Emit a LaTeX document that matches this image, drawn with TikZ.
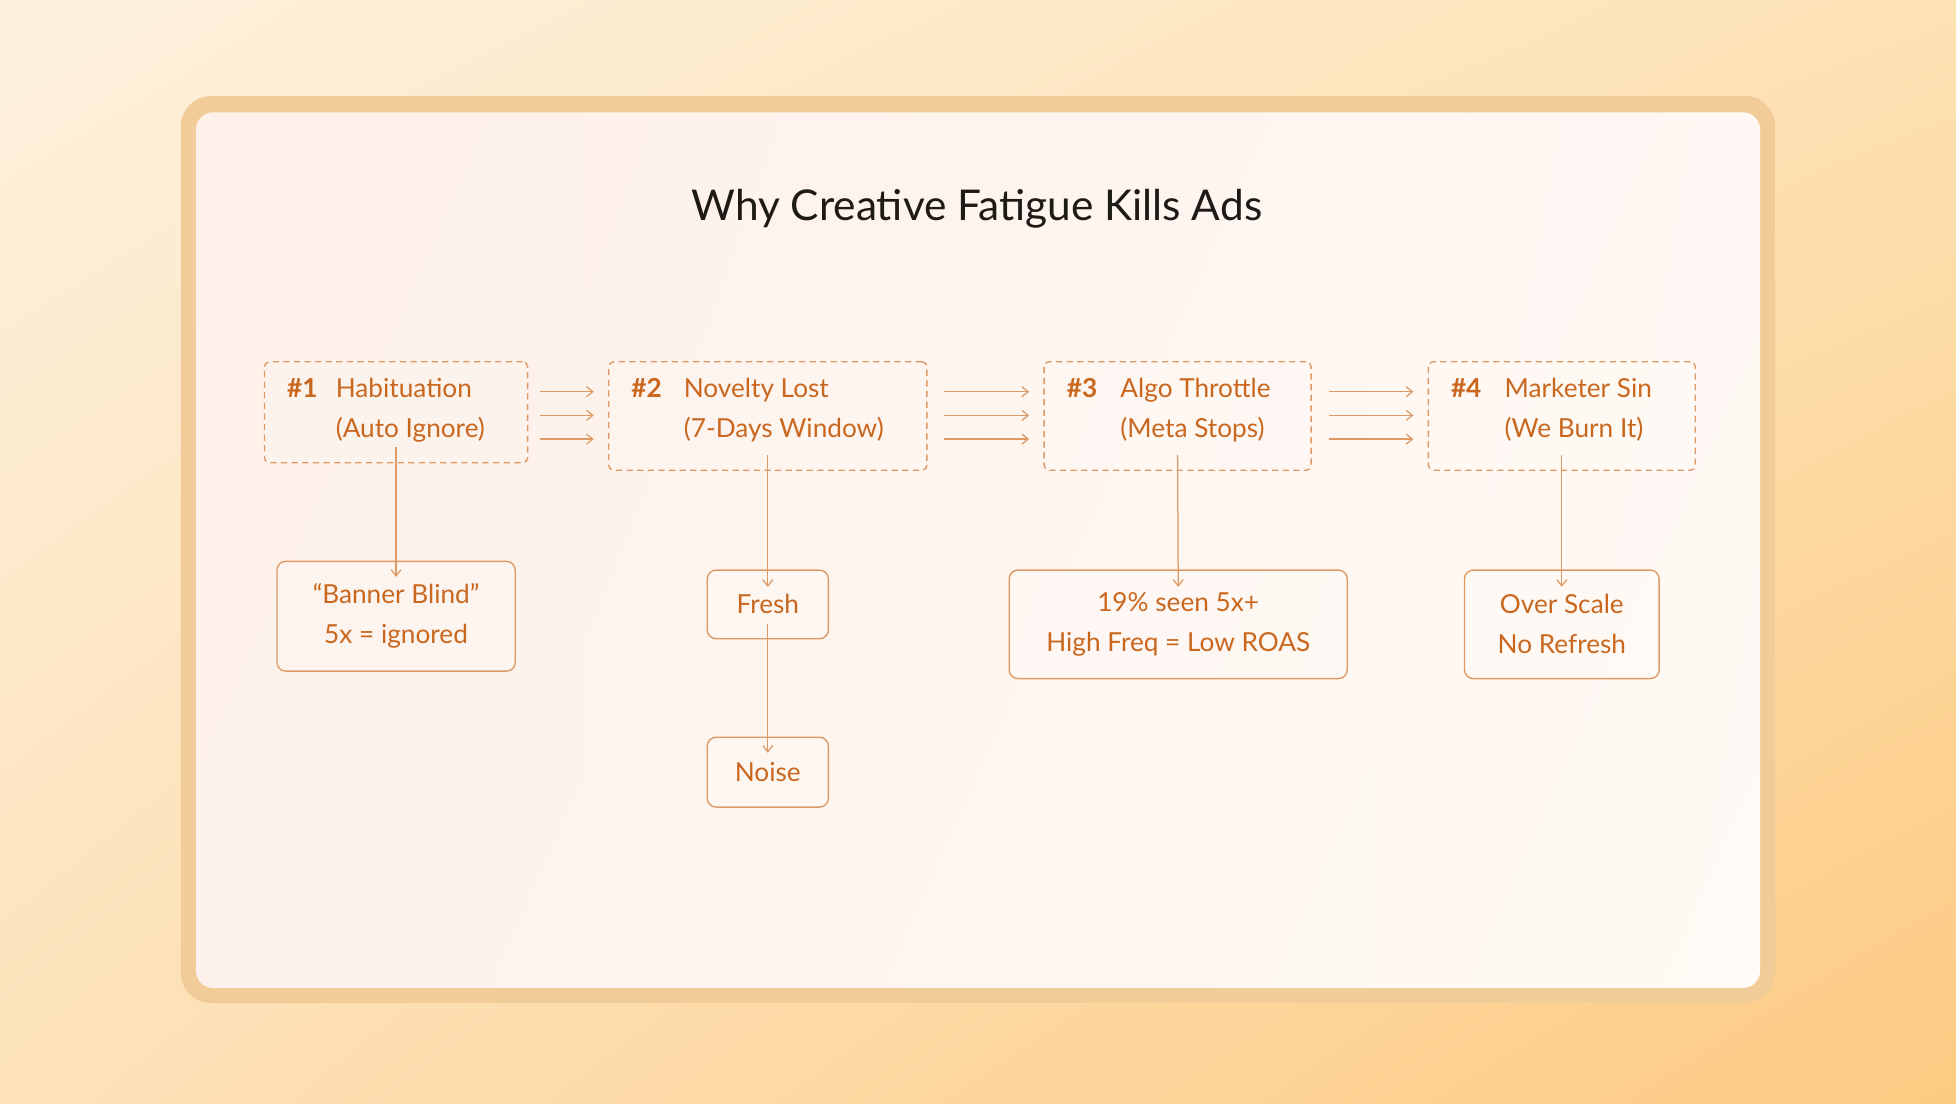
\documentclass[tikz,border=0pt]{standalone}
\usepackage{fontspec}
\setmainfont{Lato}
\usetikzlibrary{arrows.meta,shadings}
\definecolor{txt}{HTML}{C9671F}
\definecolor{brd}{HTML}{DE9A66}
\definecolor{frame}{HTML}{F2CC98}
\definecolor{bgul}{HTML}{FDF1DE}
\definecolor{bgur}{HTML}{FDE2B4}
\definecolor{bgll}{HTML}{FDE2B9}
\definecolor{bglr}{HTML}{FDCA82}
\definecolor{pul}{HTML}{FDF0E8}
\definecolor{pur}{HTML}{FFF8F4}
\definecolor{pll}{HTML}{FDF2EB}
\definecolor{plr}{HTML}{FFFAF5}
\definecolor{ttl}{HTML}{1E1A16}
\begin{document}
\begin{tikzpicture}[x=1pt,y=-1pt,
  dbox/.style={draw=brd,dashed,dash pattern=on 5pt off 3.5pt,line width=1.1pt,rounded corners=4pt,fill=white,fill opacity=0.15,text opacity=1},
  sbox/.style={draw=brd,line width=1.1pt,rounded corners=7pt,fill=white,fill opacity=0.2,text opacity=1,text=txt,font=\fontsize{21}{32}\selectfont,align=center,inner sep=0pt},
  lbl/.style={text=txt,font=\fontsize{21}{32}\selectfont,align=left,inner sep=0pt,anchor=north west},
  num/.style={text=txt,font=\fontsize{21}{32}\selectfont\bfseries,inner sep=0pt,anchor=north west},
  arr/.style={draw=brd,line width=1pt,-{Straight Barb[length=5pt,width=8pt]}}]
\shade[upper left=bgul,upper right=bgur,lower left=bgll,lower right=bglr] (0,0) rectangle (1568,885);
\useasboundingbox (0,0) rectangle (1568,885);
\fill[frame,rounded corners=24pt] (145,77) rectangle (1423,804);
\shade[rounded corners=14pt,upper left=pul,lower right=plr,upper right=pur,lower left=pll] (157,90) rectangle (1411,792);
\node[font=\fontsize{34}{40}\selectfont,text=ttl] (title) at (783,167) {Why Creative Fatigue Kills Ads};
% dashed boxes
\node[dbox,minimum width=211pt,minimum height=81pt] (d1) at (317.5,330.5) {};
\node[dbox,minimum width=255pt,minimum height=87pt] (d2) at (615.5,333.5) {};
\node[dbox,minimum width=214pt,minimum height=87pt] (d3) at (944,333.5) {};
\node[dbox,minimum width=214pt,minimum height=87pt] (d4) at (1252,333.5) {};
\node[num] (n1) at (230,303) {\#1};
\node[lbl] (t1) at (269,303) {Habituation\\(Auto Ignore)};
\node[num] (n2) at (506,303) {\#2};
\node[lbl] (t2) at (548,303) {Novelty Lost\\(7-Days Window)};
\node[num] (n3) at (855,303) {\#3};
\node[lbl] (t3) at (898,303) {Algo Throttle\\(Meta Stops)};
\node[num] (n4) at (1163,303) {\#4};
\node[lbl] (t4) at (1206,303) {Marketer Sin\\(We Burn It)};
% triple arrows
\foreach \y in {314,333,352}{
  \draw[arr] (433,\y) -- (476,\y);
  \draw[arr] (757,\y) -- (825,\y);
  \draw[arr] (1065,\y) -- (1133,\y);
}
% solid boxes
\node[sbox,minimum width=191pt,minimum height=88pt] (s1) at (317.5,494) {“Banner Blind”\\5x = ignored};
\node[sbox,minimum width=97pt,minimum height=55pt] (fresh) at (615.5,484.5) {Fresh};
\node[sbox,minimum width=97pt,minimum height=56pt] (noise) at (615.5,619) {Noise};
\node[sbox,minimum width=271pt,minimum height=87pt] (s3) at (944.5,500.5) {19\% seen 5x+\\High Freq = Low ROAS};
\node[sbox,minimum width=156pt,minimum height=87pt] (s4) at (1252,500.5) {Over Scale\\No Refresh};
\draw[arr] ([yshift=13pt]d1.south) -- ([yshift=-13pt]s1.north);
\draw[arr] ([yshift=13pt]d2.south) -- ([yshift=-14pt]fresh.north);
\draw[arr] ([yshift=13pt]d3.south) -- ([yshift=-14pt]s3.north);
\draw[arr] ([yshift=13pt]d4.south) -- ([yshift=-14pt]s4.north);
\draw[arr] ([yshift=12pt]fresh.south) -- ([yshift=-13pt]noise.north);
\end{tikzpicture}
\end{document}
